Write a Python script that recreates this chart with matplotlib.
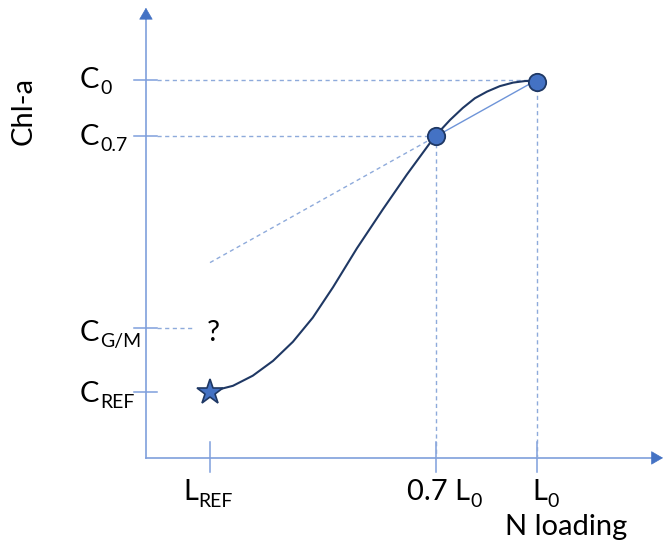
import numpy as np
import matplotlib

matplotlib.use("Agg")
import matplotlib.pyplot as plt

plt.rcParams["font.family"] = ["Lato", "DejaVu Sans"]

# conceptual positions (N loading in units of L0, Chl-a in units of C0)
L_REF, L07, L0 = 0.03, 0.7, 1.0
C_REF, C_GM, C07, C0 = 0.2, 0.364, 0.855, 1.0
X_ORIG, Y_ORIG = -0.16, 0.03
X_END, Y_END = 1.374, 1.185

# response curve
curve_x = [0.030, 0.098, 0.157, 0.217, 0.276, 0.335, 0.395, 0.466, 0.543,
           0.614, 0.697, 0.742, 0.780, 0.816, 0.852, 0.890, 0.929, 0.964, 1.0]
curve_y = [0.200, 0.215, 0.241, 0.279, 0.328, 0.390, 0.468, 0.568, 0.668,
           0.757, 0.855, 0.897, 0.928, 0.953, 0.970, 0.984, 0.993, 0.997, 0.998]

x_ticks = [L_REF, L07, L0]
x_labels = [("L", "REF"), ("0.7 L", "0"), ("L", "0")]
x_label_left = [-0.050, 0.614, 0.985]
y_ticks = [C0, C07, C_GM, C_REF]
y_labels = [("C", "0"), ("C", "0.7"), ("C", "G/M"), ("C", "REF")]
y_label_base = [0.980, 0.834, 0.330, 0.174]

AXIS = "#7f9fdc"
HEAD = "#4472c4"
DASH = "#8eaadb"
NAVY = "#1f3864"

fig = plt.figure(figsize=(6.63, 5.46), dpi=100)
ax = fig.add_axes([0, 0, 1, 1])
ax.set_xlim(-0.593, 1.374)
ax.set_ylim(-0.196, 1.205)
ax.axis("off")

# axes lines with arrow heads
ax.plot([X_ORIG, X_END - 0.01], [Y_ORIG, Y_ORIG], color=AXIS, lw=1.2)
ax.plot([X_ORIG, X_ORIG], [Y_ORIG, Y_END - 0.01], color=AXIS, lw=1.2)
head = dict(arrowstyle="-|>,head_length=0.55,head_width=0.32", color=HEAD,
            lw=0.5, shrinkA=0, shrinkB=0, mutation_scale=14)
ax.annotate("", xy=(X_END, Y_ORIG), xytext=(X_END - 0.03, Y_ORIG), arrowprops=head)
ax.annotate("", xy=(X_ORIG, Y_END), xytext=(X_ORIG, Y_END - 0.03), arrowprops=head)

# ticks crossing the axes
for xt in x_ticks:
    ax.plot([xt, xt], [-0.007, 0.072], color=AXIS, lw=1.1)
for yt in y_ticks:
    ax.plot([-0.196, -0.128], [yt, yt], color=AXIS, lw=1.1)

dash = dict(color=DASH, lw=1.0, ls=(0, (3, 2.5)))
# guides to the two reference points
ax.plot([-0.128, L0], [C0, C0], **dash)
ax.plot([L0, L0], [C0, Y_ORIG], **dash)
ax.plot([-0.128, L07], [C07, C07], **dash)
ax.plot([L07, L07], [C07, Y_ORIG], **dash)
ax.plot([-0.128, -0.015], [C_GM, C_GM], **dash)

# secant through the two points, extrapolated back to L_REF
slope = (C0 - C07) / (L0 - L07)
ax.plot([L07, L0], [C07, C0], color="#6e94d8", lw=1.0)
ax.plot([L_REF, L07], [C07 - slope * (L07 - L_REF), C07], **dash)

ax.plot(curve_x, curve_y, color=NAVY, lw=1.5, solid_capstyle="round",
        solid_joinstyle="round")
ax.plot([L07, L0], [C07, 0.995], "o", ms=12.5, mfc=HEAD, mec=NAVY, mew=1.3)
ax.plot([L_REF], [C_REF], "*", ms=19, mfc=HEAD, mec=NAVY, mew=1.2)

fs, fs_sub = 21, 14


def label(x, y, main, sub):
    t = ax.text(x, y, main, fontsize=fs, ha="left", va="baseline")
    ax.annotate(sub, xy=(1, 0), xycoords=t, xytext=(0.5, -3),
                textcoords="offset points", fontsize=fs_sub,
                ha="left", va="bottom")


for (m, s), xl in zip(x_labels, x_label_left):
    label(xl, -0.079, m, s)
for (m, s), yb in zip(y_labels, y_label_base):
    label(-0.356, yb, m, s)
ax.text(0.905, -0.168, "N loading", fontsize=fs, ha="left", va="baseline")
ax.text(0.021, 0.330, "?", fontsize=fs, ha="left", va="baseline")
ax.text(-0.522, 0.921, "Chl-a", fontsize=fs, rotation=90, ha="center", va="center")

fig.savefig("out.png", dpi=100)
